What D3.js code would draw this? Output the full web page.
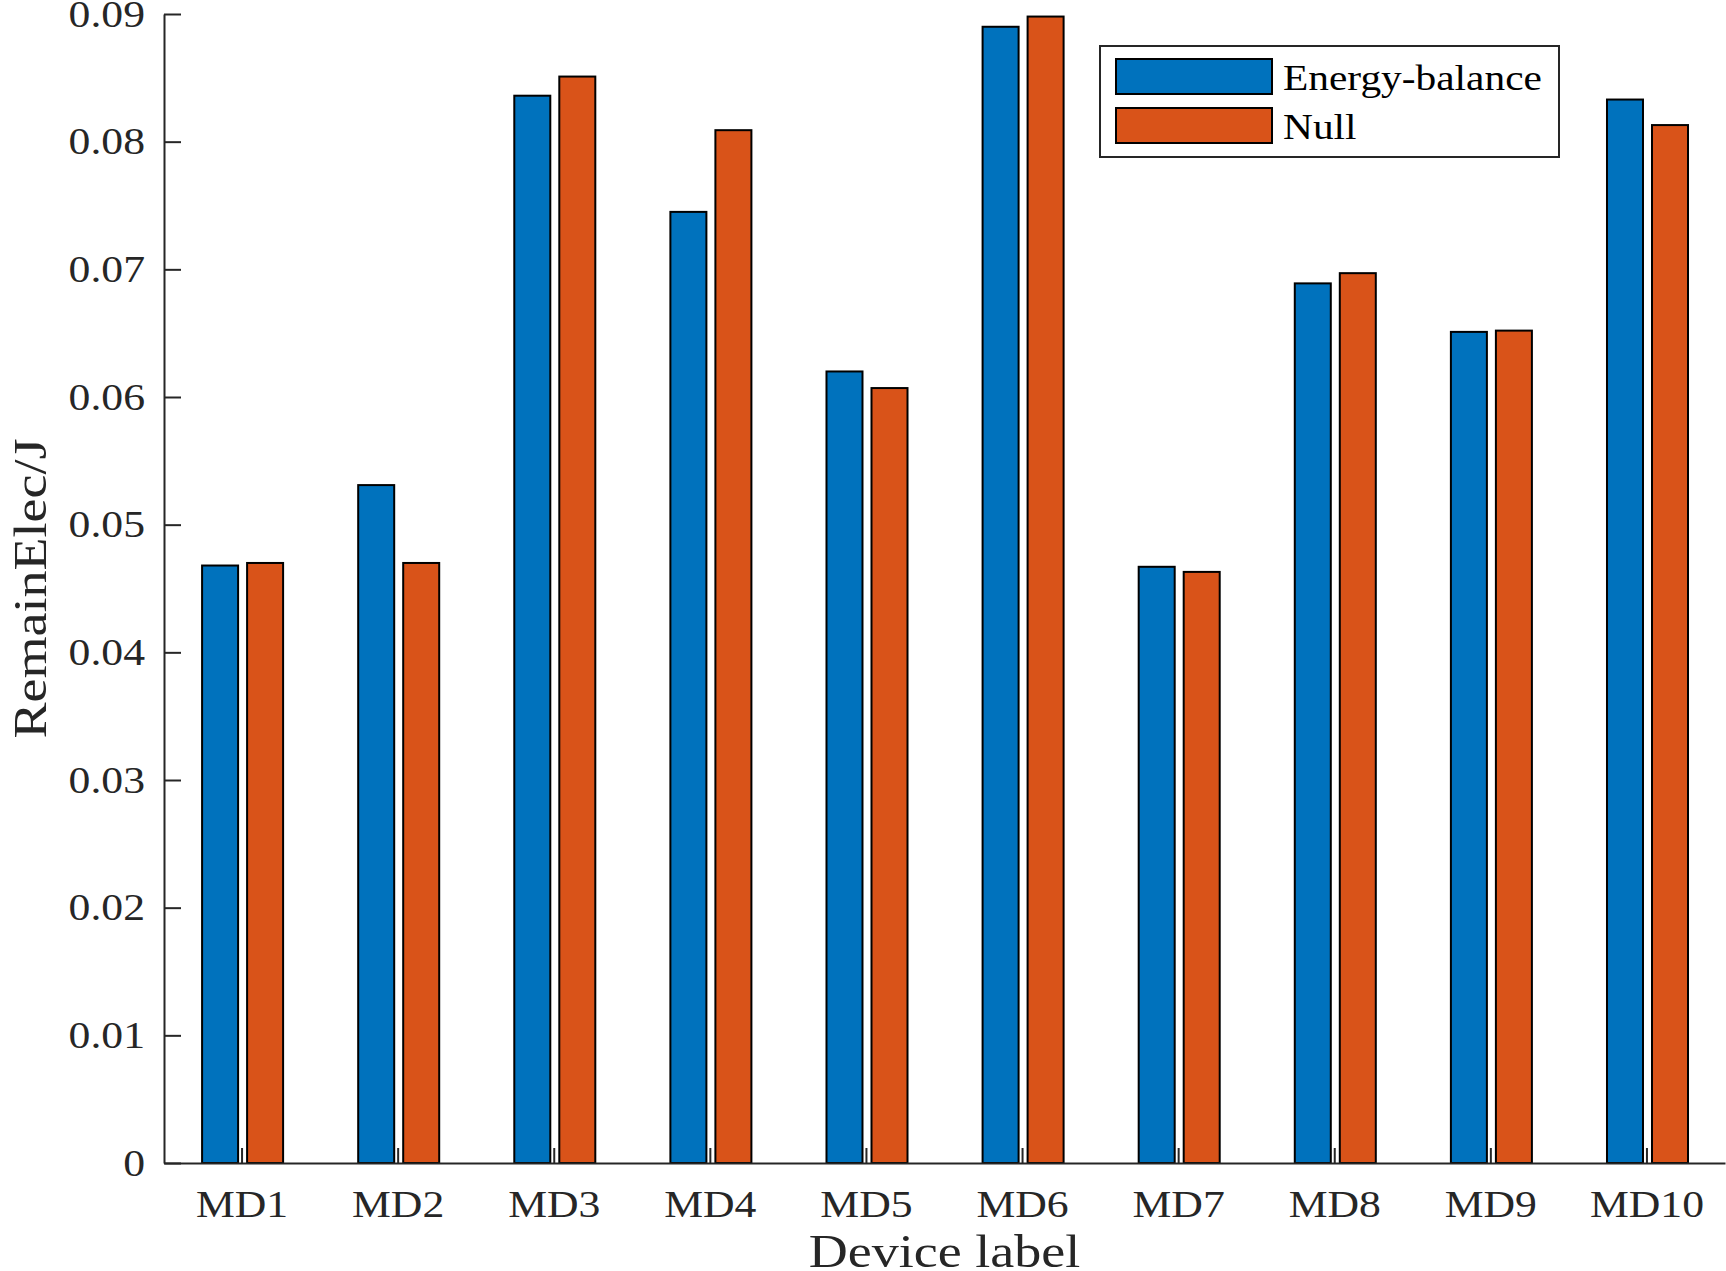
<!DOCTYPE html>
<html>
<head>
<meta charset="utf-8">
<script src="https://cdn.jsdelivr.net/npm/d3@7"></script>
<style>
    body { margin: 0; background: #fff; }
    text { font-family: "Liberation Serif", "Times New Roman", serif; }
</style>
</head>
<body>
<div id="chart"></div>
<script>
//data
const categories = ["MD1", "MD2", "MD3", "MD4", "MD5", "MD6", "MD7", "MD8", "MD9", "MD10"];
const seriesNames = ["Energy-balance", "Null"];
const energyBalance = [0.0468, 0.0531, 0.0836, 0.0745, 0.0620, 0.0890, 0.0467, 0.0689, 0.0651, 0.0833];
const nullValues = [0.0470, 0.0470, 0.0851, 0.0809, 0.0607, 0.0898, 0.0463, 0.0697, 0.0652, 0.0813];
const yTicks = [0, 0.01, 0.02, 0.03, 0.04, 0.05, 0.06, 0.07, 0.08, 0.09];

//svg size and plot area
const W = 1726, H = 1271;
const plot = { left: 164, right: 1725, top: 14, bottom: 1163 };
const stretch = 1.15; //glyphs in the figure are wider than Times
const axisColor = "#262626";

const svg = d3.select("#chart")
    .append("svg")
    .attr("width", W)
    .attr("height", H);

//rows for the grouped bars
const rows = categories.map((c, i) => ({ cat: c, values: [energyBalance[i], nullValues[i]] }));

//scales
const x = d3.scaleBand()
    .domain(categories)
    .range([plot.left, plot.right])
    .padding(0);

const xInner = d3.scaleBand()
    .domain(seriesNames)
    .range([x.bandwidth() * 0.244, x.bandwidth() * 0.763])
    .paddingInner(0.2);

const y = d3.scaleLinear()
    .domain([0, 0.09])
    .range([plot.bottom, plot.top]);

const color = d3.scaleOrdinal()
    .domain(seriesNames)
    .range(["#0072BD", "#D95319"]);

//bars
svg.append("g")
    .selectAll("g")
    .data(rows)
    .enter().append("g")
    .attr("transform", d => `translate(${x(d.cat)},0)`)
    .selectAll("rect")
    .data(d => d.values.map((v, j) => ({ key: seriesNames[j], value: v })))
    .enter().append("rect")
    .attr("x", d => xInner(d.key))
    .attr("width", xInner.bandwidth())
    .attr("y", d => y(d.value))
    .attr("height", d => y(0) - y(d.value))
    .attr("fill", d => color(d.key))
    .attr("stroke", "#000")
    .attr("stroke-width", 2);

//x axis (ticks point inward)
const xAxis = svg.append("g")
    .attr("transform", `translate(0,${plot.bottom})`)
    .call(d3.axisBottom(x).tickSize(-15).tickSizeOuter(0));

xAxis.select(".domain").attr("stroke", axisColor).attr("stroke-width", 2);
xAxis.selectAll("line").attr("stroke", axisColor).attr("stroke-width", 2);
xAxis.selectAll("text")
    .attr("y", 54)
    .attr("dy", null)
    .attr("transform", `scale(${stretch},1)`)
    .attr("fill", axisColor)
    .style("font-size", "38px");

//y axis
const yAxis = svg.append("g")
    .attr("transform", `translate(${plot.left},0)`)
    .call(d3.axisLeft(y)
        .tickValues(yTicks)
        .tickFormat(d => d === 0 ? "0" : d3.format(".2f")(d))
        .tickSize(-17)
        .tickSizeOuter(0));

yAxis.select(".domain").attr("stroke", axisColor).attr("stroke-width", 2);
yAxis.selectAll("line").attr("stroke", axisColor).attr("stroke-width", 2);
yAxis.selectAll("text")
    .attr("x", -19 / stretch)
    .attr("transform", `scale(${stretch},1)`)
    .attr("fill", axisColor)
    .style("font-size", "38px");

//axis labels
svg.append("text")
    .attr("transform", `translate(${(plot.left + plot.right) / 2},1267) scale(${stretch},1)`)
    .attr("text-anchor", "middle")
    .attr("fill", axisColor)
    .style("font-size", "47px")
    .text("Device label");

svg.append("text")
    .attr("transform", `translate(46,${(plot.top + plot.bottom) / 2}) rotate(-90) scale(${stretch},1)`)
    .attr("text-anchor", "middle")
    .attr("fill", axisColor)
    .style("font-size", "47px")
    .text("RemainElec/J");

//legend
const legend = svg.append("g")
    .attr("transform", "translate(1100,46)");

legend.append("rect")
    .attr("width", 459)
    .attr("height", 111)
    .attr("fill", "#fff")
    .attr("stroke", axisColor)
    .attr("stroke-width", 2);

seriesNames.forEach((key, i) => {
    const row = legend.append("g")
        .attr("transform", `translate(16,${13 + i * 49})`);

    row.append("rect")
        .attr("width", 156)
        .attr("height", 35)
        .attr("fill", color(key))
        .attr("stroke", "#000")
        .attr("stroke-width", 2);

    row.append("text")
        .attr("transform", `translate(167,31) scale(${stretch},1)`)
        .attr("fill", "#000")
        .style("font-size", "36px")
        .text(key);
});
</script>
</body>
</html>
